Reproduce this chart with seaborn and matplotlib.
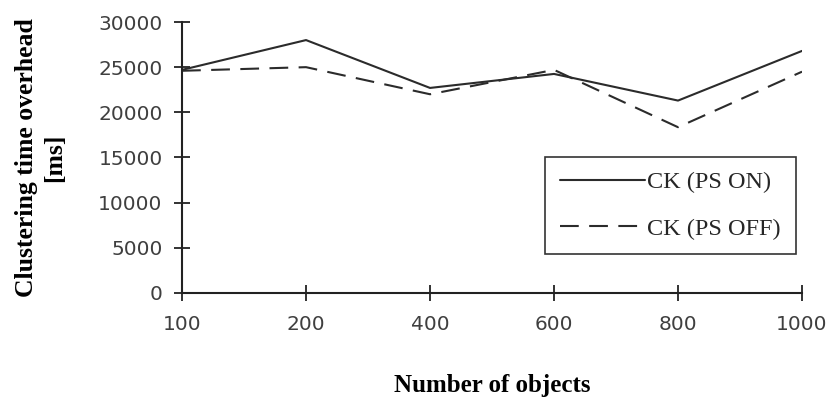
import matplotlib

matplotlib.use("Agg")

import matplotlib.pyplot as plt
import pandas as pd
import seaborn as sns

OBJECTS = ["100", "200", "400", "600", "800", "1000"]
PS_ON = [24700, 28000, 22700, 24250, 21300, 26800]
PS_OFF = [24600, 25000, 22000, 24700, 18350, 24500]
SERIES = ["CK (PS ON)", "CK (PS OFF)"]
Y_TICKS = [0, 5000, 10000, 15000, 20000, 25000, 30000]

LINE = "#2b2b2b"
TICK_TEXT = "#3f3f3f"


def build_frame() -> pd.DataFrame:
    rows = []
    for name, values in zip(SERIES, [PS_ON, PS_OFF]):
        for obj, val in zip(OBJECTS, values):
            rows.append({"objects": obj, "overhead": val, "series": name})
    return pd.DataFrame(rows)


def main() -> None:
    sns.set_theme(style="white")
    plt.rcParams["font.family"] = ["DejaVu Sans"]

    df = build_frame()
    fig = plt.figure(figsize=(8.3, 4.04), dpi=100)
    ax = fig.add_axes([0.2193, 0.275, 0.7470, 0.6705])

    sns.lineplot(
        data=df,
        x="objects",
        y="overhead",
        style="series",
        style_order=SERIES,
        dashes={SERIES[0]: "", SERIES[1]: (9, 5)},
        color=LINE,
        linewidth=1.5,
        sort=False,
        ax=ax,
    )

    ax.set_xlim(0, len(OBJECTS) - 1)
    ax.set_ylim(0, 30000)
    ax.set_yticks(Y_TICKS)
    ax.set_yticklabels([str(t) for t in Y_TICKS])

    for side in ["top", "right"]:
        ax.spines[side].set_visible(False)
    for side in ["left", "bottom"]:
        ax.spines[side].set_color("#222222")
        ax.spines[side].set_linewidth(1.5)

    ax.tick_params(axis="both", bottom=True, left=True, direction="inout",
                   length=12, width=1.3, color="#222222", labelsize=14.5,
                   labelcolor=TICK_TEXT)
    ax.tick_params(axis="y", pad=8)
    ax.tick_params(axis="x", pad=10)

    ax.set_xlabel("Number of objects", family="Liberation Serif", fontweight="bold",
                  fontsize=18, color="black", labelpad=29)
    ax.set_ylabel("Clustering time overhead\n[ms]", family="Liberation Serif",
                  fontweight="bold", fontsize=18.5, color="black", labelpad=23,
                  linespacing=1.3)

    handles, labels = ax.get_legend_handles_labels()
    leg = ax.legend(
        handles, labels,
        loc="upper left",
        bbox_to_anchor=(0.586, 0.502),
        frameon=True,
        fancybox=False,
        edgecolor="black",
        handlelength=3.5,
        handletextpad=0.1,
        labelspacing=1.0,
        borderpad=0.6,
        borderaxespad=0,
        prop={"family": "Liberation Serif", "size": 17.5},
    )
    leg.get_frame().set_linewidth(1.2)

    fig.savefig("out.png", dpi=100)
    plt.close(fig)


if __name__ == "__main__":
    main()
